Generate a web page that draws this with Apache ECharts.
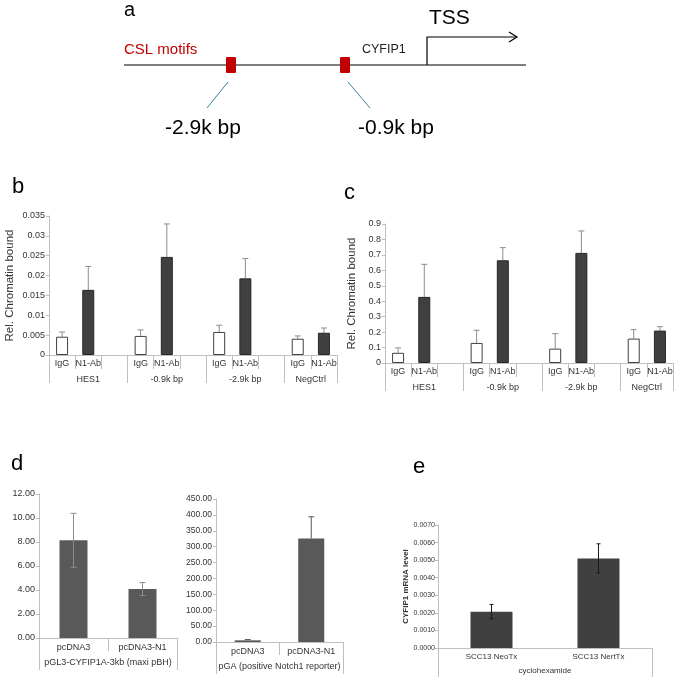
<!DOCTYPE html>
<html>
<head>
<meta charset="utf-8">
<script src="https://cdn.jsdelivr.net/npm/echarts@6/dist/echarts.min.js"></script>
<style>
html,body{margin:0;padding:0;background:#fff;}
#chart{width:676px;height:679px;}
</style>
</head>
<body>
<div id="chart"></div>
<script>
// ---------- data ----------
const chipGroups = ['HES1', '-0.9k bp', '-2.9k bp', 'NegCtrl'];
const chipSub = ['IgG', 'N1-Ab'];
// panel b
const bIgG = [0.0046, 0.0048, 0.0058, 0.0041];
const bIgGSd = [0.0012, 0.0015, 0.0017, 0.0007];
const bN1 = [0.0164, 0.0247, 0.0193, 0.0056];
const bN1Sd = [0.0059, 0.0083, 0.0050, 0.0012];
const bTicks = ['0', '0.005', '0.01', '0.015', '0.02', '0.025', '0.03', '0.035'];
// panel c
const cIgG = [0.066, 0.130, 0.093, 0.158];
const cIgGSd = [0.032, 0.082, 0.097, 0.058];
const cN1 = [0.428, 0.665, 0.713, 0.210];
const cN1Sd = [0.211, 0.082, 0.142, 0.025];
// panel d
const dCats = ['pcDNA3', 'pcDNA3-N1'];
const dLeftGroup = 'pGL3-CYFIP1A-3kb (maxi pBH)';
const dLeftVal = [8.14, 4.08];
const dLeftSd = [2.25, 0.54];
const dRightGroup = 'pGA (positive Notch1 reporter)';
const dRightVal = [5.2, 326];
const dRightSd = [2.5, 68];
// panel e
const eCats = ['SCC13 NeoTx', 'SCC13 NertTx'];
const eGroup = 'cyclohexamide';
const eVal = [0.00207, 0.00510];
const eSd = [0.00041, 0.00083];

// ---------- helpers ----------
const FONT = 'Liberation Sans, Arial, sans-serif';
const AX = '#bfbfbf';
const TXT = '#333333';

function slotsFor(groups) {
  const cats = [];
  groups.forEach((g, i) => {
    cats.push(chipSub[0], chipSub[1]);
    if (i < groups.length - 1) cats.push('');
  });
  return cats;
}
function slotPairs(vals, off) { return vals.map((v, i) => [i * 3 + off, v]); }
function errPairs(vals, sds, off, both) {
  return vals.map((v, i) => [i * 3 + off, both ? v - sds[i] : v, v + sds[i]]);
}
function errRender(capW, both, color) {
  return function (params, api) {
    const x = api.value(0);
    const lo = api.coord([x, api.value(1)]);
    const hi = api.coord([x, api.value(2)]);
    const st = { stroke: color, lineWidth: 1 };
    const ch = [
      { type: 'line', shape: { x1: lo[0], y1: lo[1], x2: hi[0], y2: hi[1] }, style: st },
      { type: 'line', shape: { x1: hi[0] - capW, y1: hi[1], x2: hi[0] + capW, y2: hi[1] }, style: st }
    ];
    if (both) ch.push({ type: 'line', shape: { x1: lo[0] - capW, y1: lo[1], x2: lo[0] + capW, y2: lo[1] }, style: st });
    return { type: 'group', children: ch };
  };
}

const grids = [
  { left: 49, top: 216, width: 288, height: 139 },   // b
  { left: 385, top: 224, width: 288, height: 139 },  // c
  { left: 39, top: 494, width: 138, height: 144 },   // d left
  { left: 216, top: 499, width: 127, height: 143 },  // d right
  { left: 438, top: 525, width: 214, height: 123 }   // e
];

const xAxes = [];
const yAxes = [];
const series = [];

function chipPanel(gi, groups, igg, iggSd, n1, n1Sd, yMax, yInt, yName, nameGap, fmt) {
  const nSlots = groups.length * 3 - 1;
  const xi = xAxes.length;
  xAxes.push({
    type: 'category', gridIndex: gi, data: slotsFor(groups), position: 'bottom',
    axisLine: { lineStyle: { color: AX } },
    axisTick: { show: true, interval: 0, length: 14, lineStyle: { color: AX } },
    axisLabel: { interval: 0, fontSize: 9, color: TXT, fontFamily: FONT, margin: 4 }
  });
  const gCenters = groups.map((g, i) => i < groups.length - 1 ? i * 3 + 1.5 : i * 3 + 1);
  const gEdges = groups.map((g, i) => i * 3).concat([nSlots]);
  xAxes.push({
    type: 'value', gridIndex: gi, min: 0, max: nSlots, position: 'bottom', offset: 14,
    axisLine: { show: false }, splitLine: { show: false },
    axisTick: { show: true, customValues: gEdges, length: 14, lineStyle: { color: AX } },
    axisLabel: {
      customValues: gCenters, fontSize: 9, color: TXT, fontFamily: FONT, margin: 6,
      formatter: v => { const k = gCenters.indexOf(v); return k >= 0 ? groups[k] : ''; }
    }
  });
  const yi = yAxes.length;
  yAxes.push({
    type: 'value', gridIndex: gi, min: 0, max: yMax, interval: yInt,
    name: yName, nameLocation: 'middle', nameGap: nameGap,
    nameTextStyle: { fontSize: 11.5, color: TXT, fontFamily: FONT },
    axisLine: { show: true, lineStyle: { color: AX } },
    axisTick: { show: true, length: 3, lineStyle: { color: AX } },
    splitLine: { show: false },
    axisLabel: { fontSize: 9, color: TXT, fontFamily: FONT, margin: 4, formatter: fmt }
  });
  series.push({
    type: 'bar', xAxisIndex: xi, yAxisIndex: yi, barWidth: 12, barGap: '-100%',
    data: slotPairs(igg, 0),
    itemStyle: { color: '#ffffff', borderColor: '#404040', borderWidth: 1 }
  });
  series.push({
    type: 'bar', xAxisIndex: xi, yAxisIndex: yi, barWidth: 12, barGap: '-100%',
    data: slotPairs(n1, 1),
    itemStyle: { color: '#404040', borderColor: '#262626', borderWidth: 1 }
  });
  series.push({
    type: 'custom', xAxisIndex: xi, yAxisIndex: yi, z: 1,
    renderItem: errRender(3, false, '#8c8c8c'),
    data: errPairs(igg, iggSd, 0, false).concat(errPairs(n1, n1Sd, 1, false))
  });
}

function simplePanel(gi, cats, group, vals, sds, yMax, yInt, fmt, opts) {
  const xi = xAxes.length;
  xAxes.push({
    type: 'category', gridIndex: gi, data: cats, position: 'bottom',
    axisLine: { lineStyle: { color: AX } },
    axisTick: { show: opts.midTick, interval: 0, length: opts.tickLen, lineStyle: { color: AX } },
    axisLabel: { interval: 0, fontSize: opts.catFont, color: TXT, fontFamily: FONT, margin: opts.catMargin }
  });
  xAxes.push({
    type: 'value', gridIndex: gi, min: 0, max: cats.length, position: 'bottom', offset: opts.groupOffset,
    axisLine: { show: false }, splitLine: { show: false },
    axisTick: { show: true, customValues: [0, cats.length], length: opts.groupTickLen, lineStyle: { color: AX } },
    axisLabel: {
      customValues: [cats.length / 2], fontSize: opts.catFont, color: TXT, fontFamily: FONT, margin: opts.groupMargin,
      formatter: () => group
    }
  });
  const yi = yAxes.length;
  yAxes.push({
    type: 'value', gridIndex: gi, min: 0, max: yMax, interval: yInt,
    name: opts.yName || '', nameLocation: 'middle', nameGap: opts.nameGap || 0,
    nameTextStyle: { fontSize: 8, fontWeight: 'bold', color: TXT, fontFamily: FONT },
    axisLine: { show: true, lineStyle: { color: AX } },
    axisTick: { show: true, length: 3, lineStyle: { color: AX } },
    splitLine: { show: false },
    axisLabel: { fontSize: opts.yFont, color: TXT, fontFamily: FONT, margin: opts.yMargin || 4, formatter: fmt }
  });
  series.push({
    type: 'bar', xAxisIndex: xi, yAxisIndex: yi, barWidth: opts.barWidth,
    data: vals,
    itemStyle: { color: opts.barColor }
  });
  series.push({
    type: 'custom', xAxisIndex: xi, yAxisIndex: yi, z: 3,
    renderItem: errRender(opts.cap, opts.both, opts.errColor),
    data: vals.map((v, i) => [i, opts.both ? v - sds[i] : v, v + sds[i]])
  });
}

chipPanel(0, chipGroups, bIgG, bIgGSd, bN1, bN1Sd, 0.035, 0.005, 'Rel. Chromatin bound', 33,
  v => bTicks[Math.round(v / 0.005)]);
chipPanel(1, chipGroups, cIgG, cIgGSd, cN1, cN1Sd, 0.9, 0.1, 'Rel. Chromatin bound', 27,
  v => String(Math.round(v * 10) / 10));
simplePanel(2, dCats, dLeftGroup, dLeftVal, dLeftSd, 12, 2, v => v.toFixed(2), {
  midTick: true, tickLen: 13, catFont: 9, catMargin: 5, groupOffset: 13, groupTickLen: 19, groupMargin: 7,
  yFont: 9, barWidth: 28, barColor: '#595959', cap: 3, both: true, errColor: '#8c8c8c'
});
simplePanel(3, dCats, dRightGroup, dRightVal, dRightSd, 450, 50, v => v.toFixed(2), {
  midTick: true, tickLen: 13, catFont: 9, catMargin: 5, groupOffset: 13, groupTickLen: 19, groupMargin: 7,
  yFont: 8.5, barWidth: 26, barColor: '#595959', cap: 3, both: false, errColor: '#595959'
});
simplePanel(4, eCats, eGroup, eVal, eSd, 0.007, 0.001, v => v.toFixed(4), {
  midTick: false, tickLen: 0, catFont: 8, catMargin: 5, groupOffset: 0, groupTickLen: 29, groupMargin: 19,
  yFont: 7, yMargin: 3, barWidth: 42, barColor: '#404040', cap: 2, both: true, errColor: '#1a1a1a',
  yName: 'CYFIP1 mRNA level', nameGap: 25
});

// ---------- schematic (panel a) and panel letters ----------
function txt(t, x, y, size, color, align) {
  return {
    type: 'text', silent: true,
    style: { text: t, x: x, y: y, fontSize: size, fontFamily: FONT, fill: color || '#000',
      textAlign: align || 'left', textVerticalAlign: 'middle', align: align || 'left', verticalAlign: 'middle' }
  };
}
function seg(x1, y1, x2, y2, color, w) {
  return { type: 'line', silent: true, shape: { x1, y1, x2, y2 }, style: { stroke: color, lineWidth: w } };
}
const graphic = [
  txt('a', 124, 10, 20, '#000'),
  txt('b', 12, 187, 22, '#000'),
  txt('c', 344, 193, 22, '#000'),
  txt('d', 11, 464, 22, '#000'),
  txt('e', 413, 467, 22, '#000'),
  seg(124, 65, 526, 65, '#000', 1.2),
  { type: 'rect', silent: true, shape: { x: 226, y: 57, width: 10, height: 16, r: 1 }, style: { fill: '#c00000' } },
  { type: 'rect', silent: true, shape: { x: 340, y: 57, width: 10, height: 16, r: 1 }, style: { fill: '#c00000' } },
  seg(228, 82, 207, 108, '#31859c', 1),
  seg(348, 82, 370, 108, '#31859c', 1),
  { type: 'polyline', silent: true, shape: { points: [[427, 65], [427, 37], [517, 37]] }, style: { stroke: '#000', lineWidth: 1.2, fill: null } },
  { type: 'polyline', silent: true, shape: { points: [[509, 32], [517, 37], [509, 42]] }, style: { stroke: '#000', lineWidth: 1.2, fill: null } },
  txt('TSS', 429, 18, 21, '#000'),
  txt('CSL motifs', 124, 50, 15, '#c00000'),
  txt('CYFIP1', 362, 50, 12.5, '#222'),
  txt('-2.9k bp', 203, 128, 21, '#000', 'center'),
  txt('-0.9k bp', 396, 128, 21, '#000', 'center')
];

const chart = echarts.init(document.getElementById('chart'), null, { renderer: 'canvas' });
chart.setOption({
  animation: false,
  backgroundColor: '#fff',
  grid: grids,
  xAxis: xAxes,
  yAxis: yAxes,
  series: series,
  graphic: graphic
});
</script>
</body>
</html>
